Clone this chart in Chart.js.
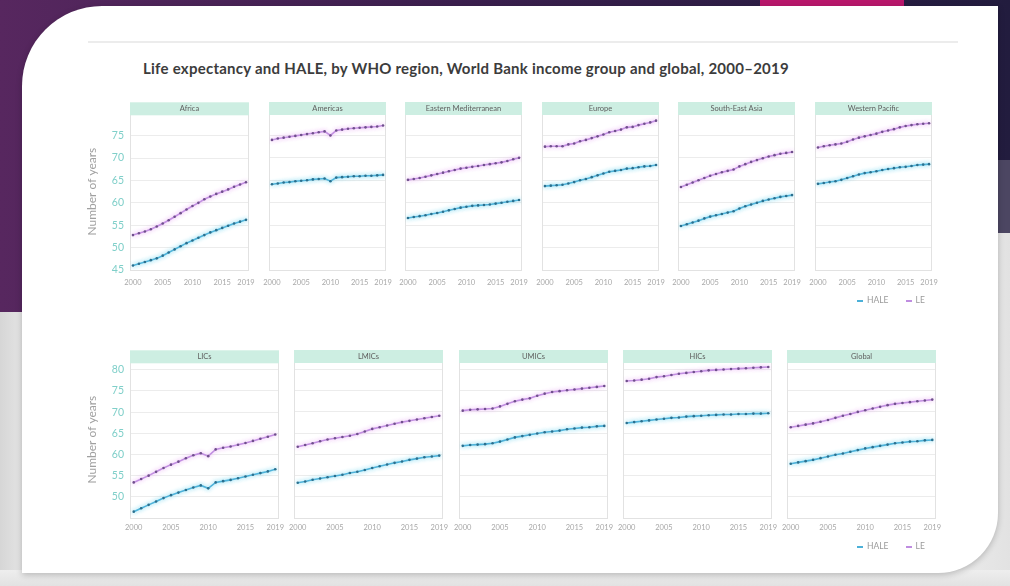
<!DOCTYPE html>
<html>
<head>
<meta charset="utf-8">
<script src="https://cdn.jsdelivr.net/npm/chart.js@4.4.0/dist/chart.umd.min.js"></script>
<style>
  html, body { margin: 0; padding: 0; }
  body {
    width: 1010px; height: 586px; overflow: hidden; position: relative;
    background: linear-gradient(90deg, #57275f 0%, #3b1f4e 45%, #221c3e 100%);
    font-family: Lato, "Open Sans", sans-serif;
  }
  .deco { position: absolute; }
  #leftLow { left: 0; top: 312px; width: 40px; height: 274px; background: linear-gradient(90deg, #d6d6d6, #efefef); }
  #rightMid { left: 990px; top: 160px; width: 20px; height: 74px; background: #4c4662; }
  #rightLow { left: 900px; top: 233px; width: 110px; height: 353px; background: linear-gradient(90deg, #f4f4f4, #e2e2e2); }
  #bottomBand { left: 0; top: 570px; width: 1010px; height: 16px; background: linear-gradient(180deg, #eeeeee, #e2e2e2); }
  #tab { left: 760px; top: 0; width: 144px; height: 7px; background: #b8176b; }
  #card {
    left: 22px; top: 6px; width: 976px; height: 567px; background: #ffffff;
    border-radius: 80px 0 60px 0; box-shadow: 0 2px 6px rgba(0,0,0,0.22);
  }
  #rule { left: 88px; top: 41px; width: 870px; height: 2px; background: #ececec; }
  #title {
    left: 143px; top: 59px; font-size: 15px; font-weight: 700; color: #3c3c3c;
    white-space: nowrap; letter-spacing: 0.25px;
  }
  .legend { position: absolute; font-size: 8.5px; color: #9a9a9a; white-space: nowrap; }
  .legend span.dash { display: inline-block; width: 6px; height: 1.6px; vertical-align: middle; margin-right: 4px; }
  canvas { position: absolute; }
</style>
</head>
<body>
<div class="deco" id="leftLow"></div>
<div class="deco" id="rightMid"></div>
<div class="deco" id="rightLow"></div>
<div class="deco" id="bottomBand"></div>
<div class="deco" id="tab"></div>
<div class="deco" id="card"></div>
<div class="deco" id="rule"></div>
<div class="deco" id="title">Life expectancy and HALE, by WHO region, World Bank income group and global, 2000–2019</div>

<script>
// ---- data -------------------------------------------------------------
const years = [2000, 2001, 2002, 2003, 2004, 2005, 2006, 2007, 2008, 2009,
               2010, 2011, 2012, 2013, 2014, 2015, 2016, 2017, 2018, 2019];
const xTickYears = [2000, 2005, 2010, 2015, 2019];
const yGridValues = [45, 50, 55, 60, 65, 70, 75, 80];
const yTickLabelsTop = [45, 50, 55, 60, 65, 70, 75];
const yTickLabelsBottom = [50, 55, 60, 65, 70, 75, 80];

const regionNames = ['Africa', 'Americas', 'Eastern Mediterranean', 'Europe', 'South-East Asia', 'Western Pacific'];
const incomeNames = ['LICs', 'LMICs', 'UMICs', 'HICs', 'Global'];

const africaLE   = [52.8, 53.2, 53.6, 54.1, 54.7, 55.4, 56.1, 56.9, 57.7, 58.5, 59.3, 60.0, 60.8, 61.4, 62.0, 62.5, 63.0, 63.6, 64.1, 64.6];
const africaHALE = [46.0, 46.4, 46.8, 47.2, 47.6, 48.2, 48.9, 49.6, 50.3, 51.0, 51.6, 52.2, 52.8, 53.4, 53.9, 54.4, 54.9, 55.4, 55.8, 56.2];
const americasLE   = [74.0, 74.3, 74.5, 74.7, 74.9, 75.1, 75.3, 75.5, 75.7, 75.9, 75.0, 76.1, 76.3, 76.5, 76.6, 76.7, 76.8, 76.9, 77.0, 77.2];
const americasHALE = [64.1, 64.3, 64.5, 64.6, 64.8, 64.9, 65.0, 65.2, 65.3, 65.4, 64.8, 65.6, 65.7, 65.8, 65.9, 65.9, 66.0, 66.0, 66.1, 66.2];
const easternMedLE   = [65.1, 65.3, 65.5, 65.8, 66.1, 66.4, 66.7, 67.0, 67.3, 67.6, 67.8, 68.0, 68.2, 68.4, 68.6, 68.8, 69.0, 69.3, 69.7, 70.0];
const easternMedHALE = [56.6, 56.8, 57.0, 57.2, 57.5, 57.7, 58.0, 58.3, 58.6, 58.9, 59.1, 59.3, 59.4, 59.5, 59.6, 59.8, 60.0, 60.2, 60.4, 60.6];
const europeLE   = [72.5, 72.6, 72.6, 72.6, 73.0, 73.2, 73.7, 74.0, 74.4, 74.8, 75.2, 75.7, 76.0, 76.3, 76.8, 76.9, 77.3, 77.6, 77.9, 78.3];
const europeHALE = [63.7, 63.8, 63.9, 64.0, 64.3, 64.6, 65.0, 65.3, 65.7, 66.1, 66.5, 66.9, 67.1, 67.3, 67.6, 67.7, 67.9, 68.1, 68.2, 68.4];
const seAsiaLE   = [63.5, 64.0, 64.5, 65.0, 65.5, 66.0, 66.4, 66.8, 67.1, 67.4, 68.1, 68.6, 69.1, 69.5, 69.9, 70.3, 70.6, 70.9, 71.1, 71.3];
const seAsiaHALE = [54.8, 55.2, 55.6, 56.0, 56.5, 56.9, 57.2, 57.5, 57.8, 58.1, 58.7, 59.2, 59.6, 60.0, 60.4, 60.7, 61.0, 61.3, 61.5, 61.7];
const westPacLE   = [72.3, 72.6, 72.8, 73.0, 73.2, 73.6, 74.1, 74.5, 74.8, 75.1, 75.4, 75.8, 76.1, 76.4, 76.8, 77.1, 77.3, 77.5, 77.6, 77.7];
const westPacHALE = [64.2, 64.4, 64.6, 64.8, 65.1, 65.5, 65.9, 66.3, 66.6, 66.8, 67.0, 67.3, 67.5, 67.7, 67.9, 68.0, 68.2, 68.4, 68.5, 68.6];

const licsLE   = [53.4, 54.2, 55.0, 55.9, 56.8, 57.6, 58.3, 59.1, 59.8, 60.3, 59.6, 61.2, 61.6, 61.9, 62.3, 62.7, 63.2, 63.7, 64.2, 64.7];
const licsHALE = [46.5, 47.3, 48.1, 48.9, 49.7, 50.4, 51.0, 51.6, 52.2, 52.7, 52.0, 53.4, 53.7, 54.0, 54.4, 54.8, 55.2, 55.6, 56.0, 56.5];
const lmicsLE   = [61.8, 62.2, 62.6, 63.1, 63.5, 63.8, 64.1, 64.4, 64.8, 65.4, 66.0, 66.4, 66.8, 67.2, 67.6, 67.9, 68.2, 68.5, 68.8, 69.1];
const lmicsHALE = [53.3, 53.6, 54.0, 54.3, 54.6, 54.9, 55.2, 55.6, 55.9, 56.3, 56.8, 57.2, 57.6, 58.0, 58.3, 58.7, 59.0, 59.3, 59.5, 59.7];
const umicsLE   = [70.3, 70.5, 70.6, 70.7, 70.8, 71.3, 71.9, 72.5, 72.9, 73.2, 73.8, 74.3, 74.7, 74.9, 75.1, 75.3, 75.5, 75.7, 75.9, 76.1];
const umicsHALE = [62.0, 62.2, 62.3, 62.4, 62.6, 63.0, 63.5, 64.0, 64.3, 64.6, 64.9, 65.2, 65.4, 65.6, 65.9, 66.1, 66.3, 66.4, 66.6, 66.7];
const hicsLE   = [77.3, 77.4, 77.6, 77.8, 78.2, 78.4, 78.7, 79.0, 79.2, 79.4, 79.6, 79.8, 79.9, 80.0, 80.1, 80.2, 80.3, 80.4, 80.5, 80.6];
const hicsHALE = [67.4, 67.6, 67.8, 68.0, 68.2, 68.4, 68.6, 68.7, 68.9, 69.0, 69.1, 69.2, 69.3, 69.4, 69.4, 69.5, 69.5, 69.6, 69.6, 69.7];
const globalLE   = [66.4, 66.7, 67.0, 67.3, 67.7, 68.1, 68.6, 69.1, 69.5, 70.0, 70.4, 70.8, 71.2, 71.6, 71.9, 72.1, 72.3, 72.5, 72.7, 72.9];
const globalHALE = [57.8, 58.1, 58.4, 58.7, 59.1, 59.5, 59.9, 60.2, 60.6, 61.0, 61.4, 61.7, 62.0, 62.3, 62.6, 62.8, 63.0, 63.1, 63.3, 63.4];

// ---- styling ------------------------------------------------------------
const FONT = 'Lato, "Open Sans", sans-serif';
const COLORS = {
  hale: '#4cb0d8', haleGlow: 'rgba(120,215,240,0.9)', haleDot: '#2b6f8e',
  le: '#bf8de0', leGlow: 'rgba(235,180,245,0.9)', leDot: '#6f4f8c',
  header: '#cdeee2', headerText: '#5e5e5e', grid: '#ececec', frame: '#e2e2e2',
  yTick: '#7fcfc9', xTick: '#a8a8a8', yTitle: '#a0a0a0'
};
const AXIS_W = 45, HEAD_H = 12, X_H = 22, SIDE = 12;

// Mint strip with the panel name, drawn over the top of the plot area
const panelDecor = {
  id: 'panelDecor',
  beforeDatasetsDraw(chart) {
    const { ctx, chartArea: a } = chart;
    ctx.save();
    ctx.strokeStyle = COLORS.frame;
    ctx.lineWidth = 1;
    ctx.strokeRect(Math.round(a.left) + 0.5, Math.round(a.top) + 0.5,
                   Math.round(a.right - a.left) - 1, Math.round(a.bottom - a.top));
    ctx.restore();
  },
  afterDraw(chart) {
    const { ctx, chartArea: a } = chart;
    const name = chart.options.plugins.panelDecor.name;
    ctx.save();
    ctx.fillStyle = COLORS.header;
    ctx.fillRect(a.left, a.top - HEAD_H + 1, a.right - a.left, HEAD_H + 1);
    ctx.fillStyle = COLORS.headerText;
    ctx.font = '7.5px ' + FONT;
    ctx.textAlign = 'center';
    ctx.textBaseline = 'middle';
    ctx.fillText(name, (a.left + a.right) / 2, a.top - HEAD_H / 2 + 1.5);
    ctx.restore();
  }
};

// Soft halo under each series line
const lineGlow = {
  id: 'lineGlow',
  beforeDatasetDraw(chart, args) {
    const ds = chart.data.datasets[args.index];
    chart.ctx.save();
    chart.ctx.shadowColor = ds.glowColor;
    chart.ctx.shadowBlur = 4;
  },
  afterDatasetDraw(chart) {
    chart.ctx.restore();
  }
};

function makePanel(name, hale, le, left, width, plotTop, plotBottom, yMax, yLabels, first, xPad) {
  const canvas = document.createElement('canvas');
  const cl = first ? left - AXIS_W : left - SIDE;
  const cw = (first ? AXIS_W : SIDE) + width + SIDE;
  const ct = plotTop - HEAD_H;
  const ch = HEAD_H + (plotBottom - plotTop) + X_H;
  canvas.width = cw; canvas.height = ch;
  canvas.style.left = cl + 'px'; canvas.style.top = ct + 'px';
  canvas.style.width = cw + 'px'; canvas.style.height = ch + 'px';
  document.body.appendChild(canvas);

  const pts = arr => years.map((yr, i) => ({ x: yr, y: arr[i] }));

  new Chart(canvas, {
    type: 'line',
    data: {
      datasets: [
        { label: 'HALE', data: pts(hale), borderColor: COLORS.hale, glowColor: COLORS.haleGlow,
          borderWidth: 1.6, pointRadius: 1.3, pointBorderWidth: 0, pointBackgroundColor: COLORS.haleDot, tension: 0 },
        { label: 'LE', data: pts(le), borderColor: COLORS.le, glowColor: COLORS.leGlow,
          borderWidth: 1.6, pointRadius: 1.3, pointBorderWidth: 0, pointBackgroundColor: COLORS.leDot, tension: 0 }
      ]
    },
    options: {
      responsive: false,
      animation: false,
      devicePixelRatio: 1,
      layout: { padding: { top: HEAD_H, left: first ? 0 : SIDE, right: SIDE, bottom: 0 } },
      plugins: {
        legend: { display: false },
        tooltip: { enabled: false },
        panelDecor: { name: name }
      },
      scales: {
        x: {
          type: 'linear', min: 1999.5, max: 2019.5,
          afterBuildTicks: axis => { axis.ticks = xTickYears.map(v => ({ value: v })); },
          afterFit: s => { s.height = X_H; },
          grid: { display: false, drawTicks: false },
          border: { display: false },
          ticks: {
            autoSkip: false, maxRotation: 0, minRotation: 0, padding: xPad,
            color: COLORS.xTick, font: { family: FONT, size: 7.5 },
            callback: v => String(v)
          }
        },
        y: {
          type: 'linear', min: 45, max: yMax,
          afterBuildTicks: axis => { axis.ticks = yGridValues.map(v => ({ value: v })); },
          afterFit: s => { s.width = first ? AXIS_W : 0; },
          grid: { color: COLORS.grid, lineWidth: 1, drawTicks: false },
          border: { display: false },
          ticks: {
            display: first, padding: 6, color: COLORS.yTick,
            font: { family: FONT, size: 10.5 },
            callback: v => (yLabels.includes(v) ? String(v) : '')
          },
          title: {
            display: first, text: 'Number of years', color: COLORS.yTitle,
            font: { family: FONT, size: 12 }, padding: { top: 0, bottom: 0 }
          }
        }
      }
    },
    plugins: [panelDecor, lineGlow]
  });
}

// ---- top row: WHO regions ---------------------------------------------
const topLE = [africaLE, americasLE, easternMedLE, europeLE, seAsiaLE, westPacLE];
const topHALE = [africaHALE, americasHALE, easternMedHALE, europeHALE, seAsiaHALE, westPacHALE];
const topLefts = [130, 266.6, 403.2, 539.8, 676.4, 813];
regionNames.forEach((n, i) =>
  makePanel(n, topHALE[i], topLE[i], topLefts[i], 121, 113, 270, 80, yTickLabelsTop, i === 0, 8));

// ---- bottom row: income groups and global -----------------------------
const botLE = [licsLE, lmicsLE, umicsLE, hicsLE, globalLE];
const botHALE = [licsHALE, lmicsHALE, umicsHALE, hicsHALE, globalHALE];
const botLefts = [130, 294.25, 458.5, 622.75, 787];
incomeNames.forEach((n, i) =>
  makePanel(n, botHALE[i], botLE[i], botLefts[i], 149, 361, 518, 82, yTickLabelsBottom, i === 0, 5));

// ---- legends under each row --------------------------------------------
function addLegend(top) {
  const el = document.createElement('div');
  el.className = 'legend';
  el.style.left = '857px';
  el.style.top = top + 'px';
  el.innerHTML = '<span class="dash" style="background:' + COLORS.hale + '"></span>HALE' +
    '<span style="display:inline-block;width:17px"></span>' +
    '<span class="dash" style="background:' + COLORS.le + '"></span>LE';
  document.body.appendChild(el);
}
addLegend(295);
addLegend(541);
</script>
</body>
</html>
